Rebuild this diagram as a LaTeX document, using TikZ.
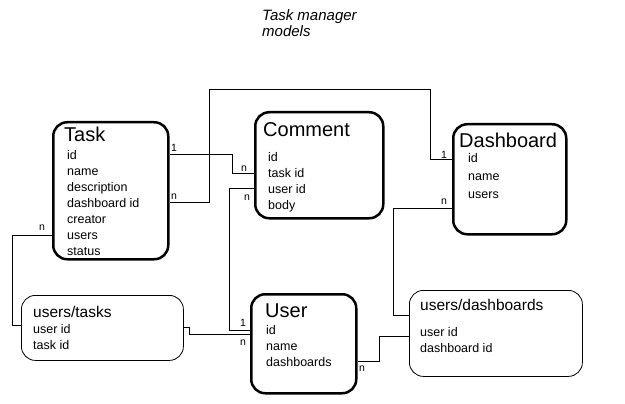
\documentclass[tikz,border=0pt]{standalone}
\usepackage{fontspec}
\setmainfont{Liberation Sans}

\newcommand{\modelfont}{\fontsize{20}{22}\selectfont}
\newcommand{\joinfont}{\fontsize{15.5}{18}\selectfont}
\newcommand{\fieldfont}{\fontsize{12.5}{16}\selectfont}

\tikzset{
  model/.style={draw, line width=2.5pt, rounded corners=14pt, anchor=north west, inner sep=0},
  joinbox/.style={draw, line width=0.8pt, rounded corners=14pt, anchor=north west, inner sep=0},
  modeltitle/.style={anchor=base west, inner sep=0, font=\modelfont},
  jointitle/.style={anchor=base west, inner sep=0, font=\joinfont},
  fields/.style={anchor=north west, inner sep=0, align=left, font=\fieldfont},
  card/.style={inner sep=1pt, font=\fontsize{10.5}{12}\selectfont},
  rel/.style={line width=1pt}
}

\begin{document}
\begin{tikzpicture}[x=1pt, y=-1pt]
\useasboundingbox (0,0) rectangle (625,404);

\node[anchor=north west, align=left, inner sep=0, font=\fontsize{15}{16}\selectfont\itshape] (heading) at (262,9) {Task manager\\models};

% models
\node[model, minimum width=115pt, minimum height=137pt] (task) at (52,121) {};
\node[modeltitle] (tasktitle) at (64,142) {Task};
\node[fields] (taskfields) at (67,150) {id\\name\\description\\dashboard id\\creator\\users\\status};

\node[model, minimum width=128pt, minimum height=106pt] (comment) at (254,111) {};
\node[modeltitle] (commenttitle) at (263,136) {Comment};
\node[fields] (commentfields) at (268,152) {id\\task id\\user id\\body};

\node[model, minimum width=113pt, minimum height=110pt] (dashboard) at (452,123) {};
\node[modeltitle] (dashboardtitle) at (459,148) {Dashboard};
\node[fields, font=\fontsize{12.5}{18}\selectfont] (dashboardfields) at (468,153) {id\\name\\users};

\node[model, minimum width=105pt, minimum height=99pt] (user) at (250,293) {};
\node[modeltitle] (usertitle) at (265,317) {User};
\node[fields] (userfields) at (266,325) {id\\name\\dashboards};

% join tables
\node[joinbox, minimum width=162pt, minimum height=65pt] (userstasks) at (21,295) {};
\node[jointitle] (userstaskstitle) at (33,317) {users/tasks};
\node[fields] (userstasksfields) at (33,324) {user id\\task id};

\node[joinbox, minimum width=173pt, minimum height=86pt] (usersdash) at (409,290) {};
\node[jointitle] (usersdashtitle) at (420,310) {users/dashboards};
\node[fields] (usersdashfields) at (420,327) {user id\\dashboard id};

% relations
\draw[rel] (task.east |- 0,155) -- (232,155) |- (comment.west |- 0,174);
\draw[rel] (task.east |- 0,203) -- (209,203) -- (209,90) -| (430,160) -- (dashboard.west |- 0,160);
\draw[rel] (comment.west |- 0,189) -| (229,330) -- (user.west |- 0,330);
\draw[rel] (task.west |- 0,235) -| (12,325) -- (userstasks.west |- 0,325);
\draw[rel] (userstasks.east |- 0,327) -| (189,334) -- (user.west |- 0,334);
\draw[rel] (dashboard.west |- 0,208) -| (393,315) -- (usersdash.west |- 0,315);
\draw[rel] (user.east |- 0,361) -| (379,336) -- (usersdash.west |- 0,336);

\node[card] (tc1) at (174,148) {1};
\node[card] (tc2) at (244,169) {n};
\node[card] (td1) at (174,197) {n};
\node[card] (td2) at (444,155) {1};
\node[card] (cu1) at (247,198) {n};
\node[card] (cu2) at (243,323) {1};
\node[card] (tu1) at (42,228) {n};
\node[card] (uu1) at (243,343) {n};
\node[card] (du1) at (444,202) {n};
\node[card] (ud1) at (362,369) {n};
\end{tikzpicture}
\end{document}
